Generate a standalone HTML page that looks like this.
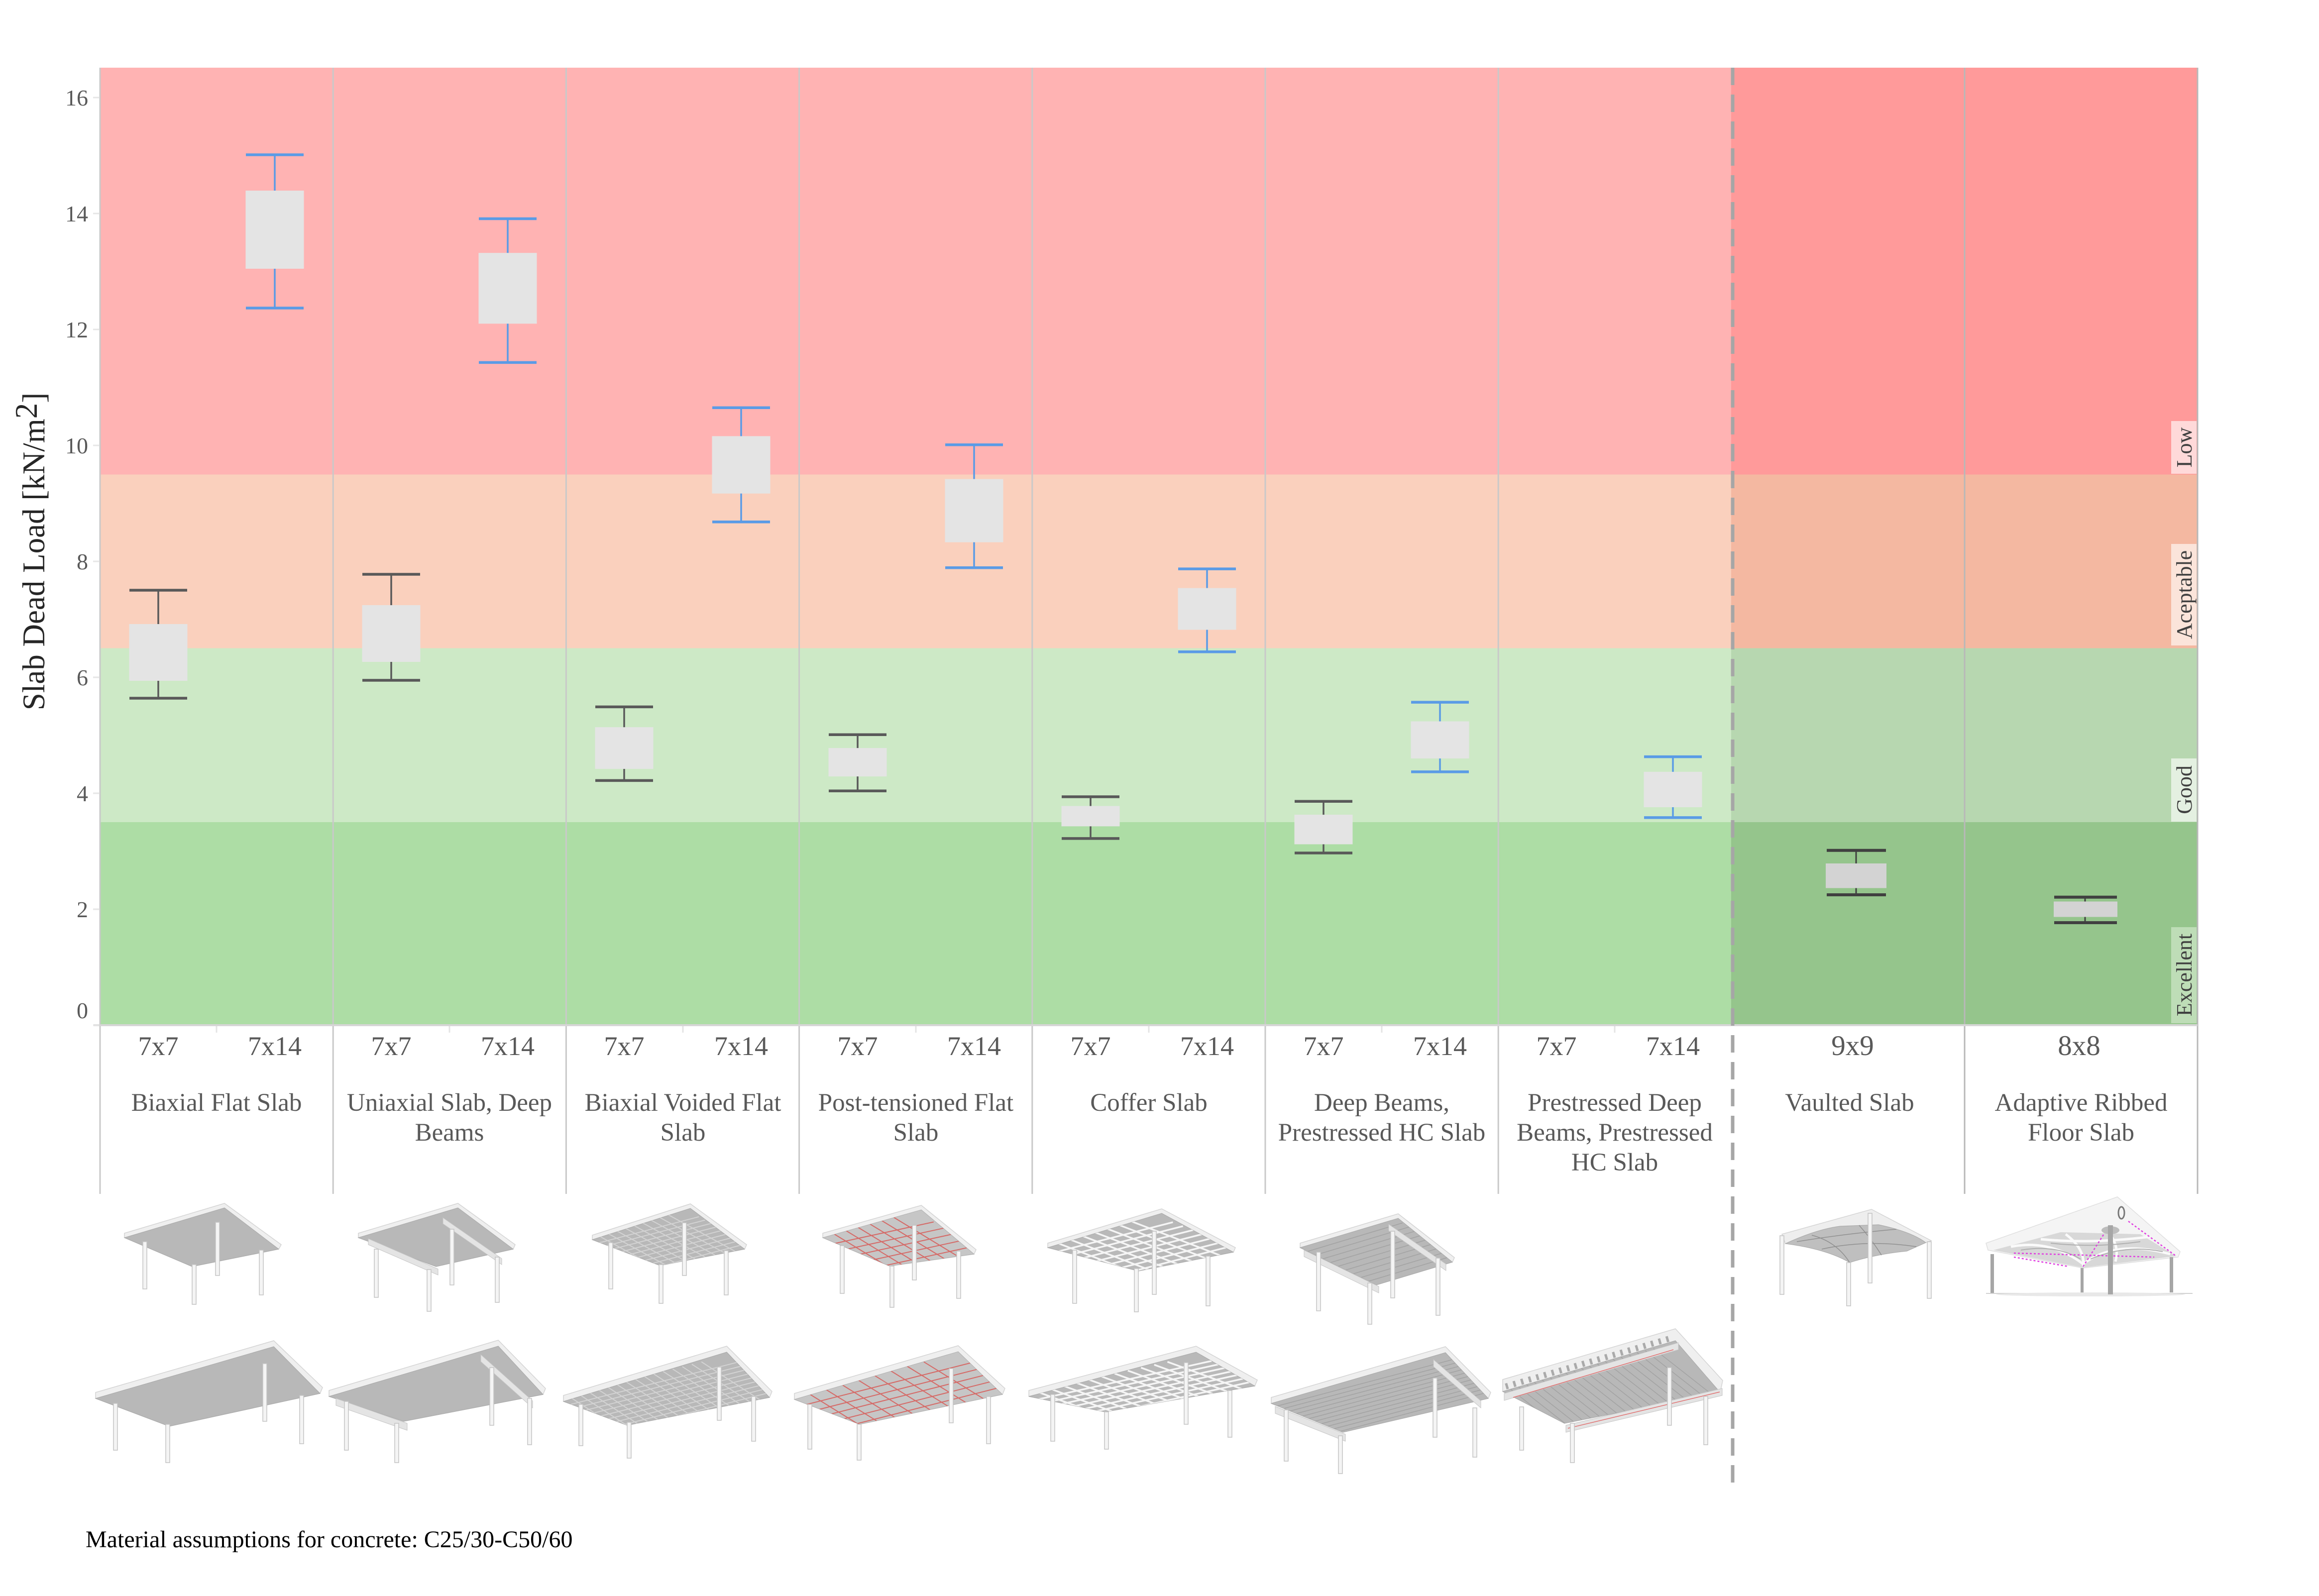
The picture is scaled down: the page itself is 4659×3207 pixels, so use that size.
<!DOCTYPE html>
<html><head><meta charset="utf-8">
<style>
html,body{margin:0;padding:0;background:#fff;}
svg{display:block;}
text{font-family:"Liberation Serif","Times New Roman",serif;}
.e{fill:#efefef;stroke:#d4d4d4;stroke-width:1.5}
.u{fill:#b8b8b8;stroke:#a8a8a8;stroke-width:1}
.ul{fill:#c6c6c6;stroke:#b0b0b0;stroke-width:1}
.c{fill:#f4f4f4;stroke:#c4c4c4;stroke-width:1.5}
.b{fill:#e4e4e4;stroke:#c6c6c6;stroke-width:1}
.gd{fill:none;stroke:#d3d3d3;stroke-width:2}
.rd{fill:none;stroke:#d9534f;stroke-width:2;opacity:.8}
.wh{fill:none;stroke:#f7f7f7;stroke-width:5}
.wc{fill:none;stroke:#f5f5f5;stroke-width:3.5}
.st{fill:none;stroke:#a2a2a2;stroke-width:1.5}
.dk{stroke:#595959}
.bl{stroke:#5A9BE6}
.d2{stroke:#404040}
</style></head><body>
<svg xmlns="http://www.w3.org/2000/svg" width="4659" height="3207" viewBox="0 0 4659 3207">
<rect width="4659" height="3207" fill="#fff"/>

<!-- Bands: groups 1-7 -->
<rect x="201" y="136" width="3278" height="818" fill="#FFB3B3"/>
<rect x="201" y="953.5" width="3278" height="349.5" fill="#FAD0BD"/>
<rect x="201" y="1302.5" width="3278" height="350" fill="#CDE9C6"/>
<rect x="201" y="1652" width="3278" height="408" fill="#ADDDA5"/>
<!-- Bands: groups 8-9 -->
<rect x="3478" y="136" width="937" height="818" fill="#FF9A9A"/>
<rect x="3478" y="953.5" width="937" height="349.5" fill="#F4B8A1"/>
<rect x="3478" y="1302.5" width="937" height="350" fill="#B7D7B0"/>
<rect x="3478" y="1652" width="937" height="408" fill="#95C58C"/>

<!-- separators -->
<g stroke="#c9c9c9" stroke-width="3">
<line x1="201" y1="136" x2="201" y2="2399"/>
<line x1="669.2" y1="136" x2="669.2" y2="2399"/>
<line x1="1137.4" y1="136" x2="1137.4" y2="2399"/>
<line x1="1605.6" y1="136" x2="1605.6" y2="2399"/>
<line x1="2073.8" y1="136" x2="2073.8" y2="2399"/>
<line x1="2542" y1="136" x2="2542" y2="2399"/>
<line x1="3010.2" y1="136" x2="3010.2" y2="2399"/>
<line x1="3947" y1="136" x2="3947" y2="2399" stroke="#b8b8b8"/>
<line x1="4415" y1="136" x2="4415" y2="2399" stroke="#b8b8b8"/>
</g>
<!-- x axis line -->
<line x1="188" y1="2060" x2="4415" y2="2060" stroke="#d6d6d6" stroke-width="4"/>
<!-- small ticks at group centers -->
<g stroke="#e4e4e4" stroke-width="3">
<line x1="435" y1="2062" x2="435" y2="2075"/>
<line x1="903" y1="2062" x2="903" y2="2075"/>
<line x1="1372" y1="2062" x2="1372" y2="2075"/>
<line x1="1840" y1="2062" x2="1840" y2="2075"/>
<line x1="2308" y1="2062" x2="2308" y2="2075"/>
<line x1="2776" y1="2062" x2="2776" y2="2075"/>
<line x1="3244" y1="2062" x2="3244" y2="2075"/>
</g>
<!-- y ticks -->
<g stroke="#e6e6e6" stroke-width="3">
<line x1="187" y1="2060" x2="199" y2="2060"/>
<line x1="187" y1="1827" x2="199" y2="1827"/>
<line x1="187" y1="1594" x2="199" y2="1594"/>
<line x1="187" y1="1361" x2="199" y2="1361"/>
<line x1="187" y1="1128" x2="199" y2="1128"/>
<line x1="187" y1="895" x2="199" y2="895"/>
<line x1="187" y1="662" x2="199" y2="662"/>
<line x1="187" y1="429" x2="199" y2="429"/>
<line x1="187" y1="196" x2="199" y2="196"/>
</g>
<!-- y tick labels -->
<g font-size="46" fill="#595959" text-anchor="end">
<text x="177" y="2046">0</text>
<text x="177" y="1843">2</text>
<text x="177" y="1610">4</text>
<text x="177" y="1377">6</text>
<text x="177" y="1144">8</text>
<text x="177" y="911">10</text>
<text x="177" y="678">12</text>
<text x="177" y="445">14</text>
<text x="177" y="212">16</text>
</g>
<!-- y title -->
<text transform="translate(89,1108) rotate(-90)" text-anchor="middle" font-size="63" fill="#262626">Slab Dead Load [kN/m<tspan dy="-15">2</tspan><tspan dy="15">]</tspan></text>

<!-- Box plots -->
<!-- G1 7x7 -->
<line x1="318" y1="1186" x2="318" y2="1403" class="dk" stroke-width="3.5"/>
<rect x="259.5" y="1254" width="117" height="114" fill="#E4E4E4"/>
<line x1="260" y1="1186" x2="376" y2="1186" class="dk" stroke-width="5.5"/>
<line x1="260" y1="1403" x2="376" y2="1403" class="dk" stroke-width="5.5"/>
<!-- G1 7x14 -->
<line x1="552" y1="311" x2="552" y2="619" class="bl" stroke-width="3.5"/>
<rect x="493.5" y="383" width="117" height="157" fill="#E4E4E4"/>
<line x1="494" y1="311" x2="610" y2="311" class="bl" stroke-width="5.5"/>
<line x1="494" y1="619" x2="610" y2="619" class="bl" stroke-width="5.5"/>
<!-- G2 7x7 -->
<line x1="786" y1="1154" x2="786" y2="1367" class="dk" stroke-width="3.5"/>
<rect x="727.5" y="1216" width="117" height="114" fill="#E4E4E4"/>
<line x1="728" y1="1154" x2="844" y2="1154" class="dk" stroke-width="5.5"/>
<line x1="728" y1="1367" x2="844" y2="1367" class="dk" stroke-width="5.5"/>
<!-- G2 7x14 -->
<line x1="1020" y1="439.5" x2="1020" y2="728.4" class="bl" stroke-width="3.5"/>
<rect x="961.5" y="508.2" width="117" height="142.2" fill="#E4E4E4"/>
<line x1="962" y1="439.5" x2="1078" y2="439.5" class="bl" stroke-width="5.5"/>
<line x1="962" y1="728.4" x2="1078" y2="728.4" class="bl" stroke-width="5.5"/>
<!-- G3 7x7 -->
<line x1="1254" y1="1420.4" x2="1254" y2="1568.4" class="dk" stroke-width="3.5"/>
<rect x="1195.5" y="1461.2" width="117" height="83.9" fill="#E4E4E4"/>
<line x1="1196" y1="1420.4" x2="1312" y2="1420.4" class="dk" stroke-width="5.5"/>
<line x1="1196" y1="1568.4" x2="1312" y2="1568.4" class="dk" stroke-width="5.5"/>
<!-- G3 7x14 -->
<line x1="1489" y1="819.3" x2="1489" y2="1048.8" class="bl" stroke-width="3.5"/>
<rect x="1430.5" y="876.4" width="117" height="115.3" fill="#E4E4E4"/>
<line x1="1431" y1="819.3" x2="1547" y2="819.3" class="bl" stroke-width="5.5"/>
<line x1="1431" y1="1048.8" x2="1547" y2="1048.8" class="bl" stroke-width="5.5"/>
<!-- G4 7x7 -->
<line x1="1723" y1="1476.3" x2="1723" y2="1589.3" class="dk" stroke-width="3.5"/>
<rect x="1664.5" y="1503.1" width="117" height="57.1" fill="#E4E4E4"/>
<line x1="1665" y1="1476.3" x2="1781" y2="1476.3" class="dk" stroke-width="5.5"/>
<line x1="1665" y1="1589.3" x2="1781" y2="1589.3" class="dk" stroke-width="5.5"/>
<!-- G4 7x14 -->
<line x1="1957" y1="893.8" x2="1957" y2="1140.8" class="bl" stroke-width="3.5"/>
<rect x="1898.5" y="962.6" width="117" height="127" fill="#E4E4E4"/>
<line x1="1899" y1="893.8" x2="2015" y2="893.8" class="bl" stroke-width="5.5"/>
<line x1="1899" y1="1140.8" x2="2015" y2="1140.8" class="bl" stroke-width="5.5"/>
<!-- G5 7x7 -->
<line x1="2191" y1="1601" x2="2191" y2="1684.9" class="dk" stroke-width="3.5"/>
<rect x="2132.5" y="1619.6" width="117" height="40.8" fill="#E4E4E4"/>
<line x1="2133" y1="1601" x2="2249" y2="1601" class="dk" stroke-width="5.5"/>
<line x1="2133" y1="1684.9" x2="2249" y2="1684.9" class="dk" stroke-width="5.5"/>
<!-- G5 7x14 -->
<line x1="2425" y1="1143.1" x2="2425" y2="1309.7" class="bl" stroke-width="3.5"/>
<rect x="2366.5" y="1181.6" width="117" height="83.9" fill="#E4E4E4"/>
<line x1="2367" y1="1143.1" x2="2483" y2="1143.1" class="bl" stroke-width="5.5"/>
<line x1="2367" y1="1309.7" x2="2483" y2="1309.7" class="bl" stroke-width="5.5"/>
<!-- G6 7x7 -->
<line x1="2659" y1="1610.3" x2="2659" y2="1714" class="dk" stroke-width="3.5"/>
<rect x="2600.5" y="1637.1" width="117" height="59.4" fill="#E4E4E4"/>
<line x1="2601" y1="1610.3" x2="2717" y2="1610.3" class="dk" stroke-width="5.5"/>
<line x1="2601" y1="1714" x2="2717" y2="1714" class="dk" stroke-width="5.5"/>
<!-- G6 7x14 -->
<line x1="2893" y1="1411.1" x2="2893" y2="1550.9" class="bl" stroke-width="3.5"/>
<rect x="2834.5" y="1449.5" width="117" height="74.6" fill="#E4E4E4"/>
<line x1="2835" y1="1411.1" x2="2951" y2="1411.1" class="bl" stroke-width="5.5"/>
<line x1="2835" y1="1550.9" x2="2951" y2="1550.9" class="bl" stroke-width="5.5"/>
<!-- G7 7x14 -->
<line x1="3361" y1="1520.6" x2="3361" y2="1642.9" class="bl" stroke-width="3.5"/>
<rect x="3302.5" y="1550.9" width="117" height="71.1" fill="#E4E4E4"/>
<line x1="3303" y1="1520.6" x2="3419" y2="1520.6" class="bl" stroke-width="5.5"/>
<line x1="3303" y1="1642.9" x2="3419" y2="1642.9" class="bl" stroke-width="5.5"/>
<!-- G8 9x9 -->
<line x1="3729" y1="1708.7" x2="3729" y2="1798" class="d2" stroke-width="3"/>
<rect x="3668" y="1735" width="122" height="49.5" fill="#D3D3D3"/>
<line x1="3670" y1="1708.7" x2="3789" y2="1708.7" class="d2" stroke-width="6"/>
<line x1="3670" y1="1798" x2="3789" y2="1798" class="d2" stroke-width="6"/>
<!-- G9 8x8 -->
<line x1="4189" y1="1802.7" x2="4189" y2="1854" class="d2" stroke-width="3"/>
<rect x="4126" y="1811.5" width="128" height="31" fill="#D3D3D3"/>
<line x1="4127" y1="1802.7" x2="4253" y2="1802.7" class="d2" stroke-width="6"/>
<line x1="4127" y1="1854" x2="4253" y2="1854" class="d2" stroke-width="6"/>

<!-- Right rating labels -->
<rect x="4362" y="846" width="51" height="106" fill="#FFD9D9"/>
<rect x="4362" y="1093" width="51" height="204" fill="#FBE4DA"/>
<rect x="4362" y="1524" width="51" height="127" fill="#E4F0E1"/>
<rect x="4362" y="1863" width="51" height="193" fill="#BEDDB7"/>
<g font-size="44" fill="#404040" text-anchor="middle">
<text transform="translate(4403,899) rotate(-90)">Low</text>
<text transform="translate(4403,1195) rotate(-90)">Aceptable</text>
<text transform="translate(4403,1587) rotate(-90)">Good</text>
<text transform="translate(4403,1959) rotate(-90)">Excellent</text>
</g>

<!-- Dashed divider -->
<line x1="3481" y1="136" x2="3481" y2="2980" stroke="#A6A6A6" stroke-width="7" stroke-dasharray="35 19"/>

<!-- Category labels -->
<g font-size="54" fill="#595959" text-anchor="middle">
<text x="318" y="2120">7x7</text><text x="552" y="2120">7x14</text>
<text x="786" y="2120">7x7</text><text x="1020" y="2120">7x14</text>
<text x="1254" y="2120">7x7</text><text x="1489" y="2120">7x14</text>
<text x="1723" y="2120">7x7</text><text x="1957" y="2120">7x14</text>
<text x="2191" y="2120">7x7</text><text x="2425" y="2120">7x14</text>
<text x="2659" y="2120">7x7</text><text x="2893" y="2120">7x14</text>
<text x="3127" y="2120">7x7</text><text x="3361" y="2120">7x14</text>
<text x="3722" y="2120" font-size="57">9x9</text>
<text x="4177" y="2120" font-size="57">8x8</text>
</g>
<g font-size="51" fill="#595959" text-anchor="middle">
<text x="435" y="2232">Biaxial Flat Slab</text>
<text x="903" y="2232">Uniaxial Slab, Deep</text><text x="903" y="2292">Beams</text>
<text x="1372" y="2232">Biaxial Voided Flat</text><text x="1372" y="2292">Slab</text>
<text x="1840" y="2232">Post-tensioned Flat</text><text x="1840" y="2292">Slab</text>
<text x="2308" y="2232">Coffer Slab</text>
<text x="2776" y="2232">Deep Beams,</text><text x="2776" y="2292">Prestressed HC Slab</text>
<text x="3244" y="2232">Prestressed Deep</text><text x="3244" y="2292">Beams, Prestressed</text><text x="3244" y="2352">HC Slab</text>
<text x="3716" y="2232">Vaulted Slab</text>
<text x="4181" y="2232">Adaptive Ribbed</text><text x="4181" y="2292">Floor Slab</text>
</g>

<defs>
<clipPath id="k13"><polygon points="1190,2491 1387,2428 1496,2510 1326,2543"/></clipPath>
<clipPath id="k14"><polygon points="1653,2487 1851,2431 1957,2520 1787,2544"/></clipPath>
<clipPath id="k15"><polygon points="2105,2507 2334,2438 2478,2516 2287,2554"/></clipPath>
<clipPath id="k16"><polygon points="2612,2507 2809,2448 2918,2536 2765,2582"/></clipPath>
<clipPath id="k23"><polygon points="1132,2816 1460,2717 1546,2808 1260,2864"/></clipPath>
<clipPath id="k24"><polygon points="1596,2812 1925,2716 2014,2802 1727,2862"/></clipPath>
<clipPath id="k25"><polygon points="2067,2806 2403,2717 2521,2785 2220,2837"/></clipPath>
<clipPath id="k26"><polygon points="2554,2820 2904,2718 2990,2810 2698,2878"/></clipPath>
<clipPath id="k27"><polygon points="3019,2796 3366,2694 3456,2798 3143,2860"/></clipPath>
</defs>

<!-- ===== Row 1 illustrations ===== -->
<!-- G1 -->
<polygon class="e" points="250,2478 451,2418 565,2501 560,2510 386,2545 250,2487"/>
<polygon class="u" points="250,2487 451,2427 560,2510 386,2545"/>
<g class="c"><rect x="287" y="2495" width="8" height="95"/><rect x="433" y="2456" width="8" height="107"/><rect x="386" y="2541" width="8" height="80"/><rect x="521" y="2512" width="8" height="90"/></g>
<!-- G2 -->
<polygon class="e" points="720,2478 920,2418 1035,2501 1031,2510 876,2545 720,2487"/>
<polygon class="u" points="720,2487 920,2427 1031,2510 876,2545"/>
<polygon class="b" points="740,2489 880,2550 880,2562 740,2501"/>
<polygon class="b" points="890,2447 1008,2529 1008,2541 890,2459"/>
<g class="c"><rect x="752" y="2510" width="8" height="97"/><rect x="904" y="2470" width="8" height="112"/><rect x="858" y="2551" width="8" height="84"/><rect x="995" y="2526" width="8" height="91"/></g>
<!-- G3 -->
<polygon class="e" points="1190,2482 1387,2419 1500,2501 1496,2510 1326,2543 1190,2491"/>
<polygon class="u" points="1190,2491 1387,2428 1496,2510 1326,2543"/>
<g clip-path="url(#k13)"><path class="gd" vector-effect="non-scaling-stroke" transform="matrix(183.5,-48,122.5,67,1190,2491)" d="M.1 -.1V1.1M.2 -.1V1.1M.3 -.1V1.1M.4 -.1V1.1M.5 -.1V1.1M.6 -.1V1.1M.7 -.1V1.1M.8 -.1V1.1M.9 -.1V1.1M-.1 .1H1.1M-.1 .2H1.1M-.1 .3H1.1M-.1 .4H1.1M-.1 .5H1.1M-.1 .6H1.1M-.1 .7H1.1M-.1 .8H1.1M-.1 .9H1.1"/></g>
<g class="c"><rect x="1223" y="2497" width="8" height="93"/><rect x="1371" y="2457" width="8" height="106"/><rect x="1324" y="2541" width="8" height="78"/><rect x="1455" y="2513" width="8" height="89"/></g>
<!-- G4 -->
<polygon class="e" points="1653,2478 1851,2422 1961,2511 1957,2520 1787,2544 1653,2487"/>
<polygon class="ul" points="1653,2487 1851,2431 1957,2520 1787,2544"/>
<g clip-path="url(#k14)"><path class="rd" vector-effect="non-scaling-stroke" transform="matrix(184,-40,120,73,1653,2487)" d="M.14 -.1V1.1M.28 -.1V1.1M.42 -.1V1.1M.56 -.1V1.1M.7 -.1V1.1M.84 -.1V1.1M-.1 .17H1.1M-.1 .34H1.1M-.1 .5H1.1M-.1 .67H1.1M-.1 .84H1.1"/></g>
<g class="c"><rect x="1688" y="2503" width="8" height="96"/><rect x="1833" y="2462" width="8" height="110"/><rect x="1788" y="2544" width="8" height="83"/><rect x="1922" y="2514" width="8" height="95"/></g>
<!-- G5 -->
<polygon class="e" points="2105,2498 2334,2429 2482,2507 2478,2516 2287,2554 2105,2507"/>
<polygon fill="#b9b9b9" stroke="#a8a8a8" stroke-width="1" points="2105,2507 2334,2438 2478,2516 2287,2554"/>
<g clip-path="url(#k15)"><path class="wc" vector-effect="non-scaling-stroke" transform="matrix(210,-53.5,163,62.5,2105,2507)" d="M.125 -.1V1.1M.25 -.1V1.1M.375 -.1V1.1M.5 -.1V1.1M.625 -.1V1.1M.75 -.1V1.1M.875 -.1V1.1M-.1 .125H1.1M-.1 .25H1.1M-.1 .375H1.1M-.1 .5H1.1M-.1 .625H1.1M-.1 .75H1.1M-.1 .875H1.1"/></g>
<g class="c"><rect x="2155" y="2512" width="8" height="107"/><rect x="2315" y="2474" width="8" height="127"/><rect x="2279" y="2549" width="8" height="87"/><rect x="2423" y="2524" width="8" height="100"/></g>
<!-- G6 -->
<polygon class="e" points="2612,2498 2809,2439 2922,2527 2918,2536 2765,2582 2612,2507"/>
<polygon class="u" points="2612,2507 2809,2448 2918,2536 2765,2582"/>
<g clip-path="url(#k16)"><path class="st" vector-effect="non-scaling-stroke" transform="matrix(175,-52.5,131,81.5,2612,2507)" d="M-.1 .1H1.1M-.1 .2H1.1M-.1 .3H1.1M-.1 .4H1.1M-.1 .5H1.1M-.1 .6H1.1M-.1 .7H1.1M-.1 .8H1.1M-.1 .9H1.1"/></g>
<polygon class="b" points="2620,2512 2770,2585 2770,2598 2620,2525"/>
<polygon class="b" points="2790,2460 2905,2540 2905,2553 2790,2473"/>
<g class="c"><rect x="2645" y="2516" width="8" height="118"/><rect x="2794" y="2474" width="8" height="134"/><rect x="2748" y="2578" width="8" height="83"/><rect x="2885" y="2528" width="8" height="115"/></g>
<!-- G8 Vaulted -->
<path fill="#eeeeee" stroke="#d4d4d4" stroke-width="1.5" d="M3580,2480 L3760,2430 L3880,2493 L3869,2497 Q3840,2475 3774,2461 L3697,2464 Q3650,2470 3587,2499 Z"/>
<path fill="#bfbfbf" stroke="#a8a8a8" stroke-width="1" d="M3587,2499 Q3650,2470 3697,2464 L3774,2461 Q3840,2475 3869,2497 L3831,2514 Q3770,2520 3716,2537 Q3670,2510 3587,2499 Z"/>
<g fill="none" stroke="#8f8f8f" stroke-width="1.5">
<path d="M3640,2482 Q3690,2495 3716,2537"/><path d="M3735,2462 Q3760,2490 3780,2522"/><path d="M3610,2495 Q3700,2480 3810,2470"/><path d="M3660,2510 Q3750,2490 3850,2505"/>
</g>
<g class="c"><rect x="3576" y="2483" width="8" height="118"/><rect x="3753" y="2438" width="8" height="140"/><rect x="3710" y="2537" width="8" height="87"/><rect x="3872" y="2495" width="8" height="114"/></g>
<!-- G9 Adaptive -->
<line x1="3990" y1="2599" x2="4405" y2="2599" stroke="#d2d2d2" stroke-width="2"/>
<ellipse cx="4200" cy="2601" rx="190" ry="4" fill="#e8e8e8"/>
<polygon fill="#f4f4f4" stroke="#e0e0e0" stroke-width="1.5" points="3990,2498 4254,2405 4380,2515 4376,2526 4185,2548 3994,2512"/>
<polygon fill="#d8d8d8" points="4005,2512 4140,2476 4300,2480 4372,2524 4185,2547"/>
<g fill="none" stroke="#fafafa" stroke-width="5">
<path d="M4040,2505 Q4120,2490 4185,2540"/><path d="M4100,2490 Q4200,2500 4320,2485"/><path d="M4185,2540 Q4250,2490 4360,2520"/><path d="M4150,2480 Q4190,2510 4185,2545"/><path d="M4230,2470 Q4260,2500 4250,2535"/>
</g>
<g fill="none" stroke="#b0b0b0" stroke-width="2">
<path d="M4060,2512 Q4130,2500 4180,2530"/><path d="M4120,2498 Q4210,2508 4300,2495"/><path d="M4200,2530 Q4270,2500 4345,2515"/>
</g>
<g fill="none" stroke="#e040e0" stroke-width="2.5" stroke-dasharray="4 4">
<line x1="4046" y1="2518" x2="4328" y2="2526"/><line x1="4046" y1="2526" x2="4156" y2="2545"/><line x1="4276" y1="2454" x2="4372" y2="2524"/><line x1="4185" y1="2545" x2="4228" y2="2478"/>
</g>
<ellipse cx="4262" cy="2437" rx="6" ry="12" fill="none" stroke="#777" stroke-width="3"/>
<ellipse cx="4240" cy="2472" rx="18" ry="8" fill="#bdbdbd"/>
<g fill="#a6a6a6"><rect x="3999" y="2520" width="7" height="78"/><rect x="4180" y="2548" width="6" height="49"/><rect x="4235" y="2462" width="10" height="139"/><rect x="4359" y="2526" width="7" height="71"/></g>

<!-- ===== Row 2 illustrations ===== -->
<!-- G1 -->
<polygon class="e" points="192,2798 550,2694 648,2788 643,2800 340,2866 192,2810"/>
<polygon class="u" points="192,2810 550,2706 643,2800 340,2866"/>
<g class="c"><rect x="228" y="2820" width="8" height="94"/><rect x="333" y="2862" width="8" height="77"/><rect x="528" y="2740" width="8" height="116"/><rect x="602" y="2804" width="8" height="97"/></g>
<!-- G2 -->
<polygon class="e" points="661,2794 1001,2693 1096,2790 1091,2802 811,2856 661,2806"/>
<polygon class="u" points="661,2806 1001,2705 1091,2802 811,2856"/>
<polygon class="b" points="675,2810 818,2860 818,2874 675,2824"/>
<polygon class="b" points="966,2722 1070,2815 1070,2829 966,2736"/>
<g class="c"><rect x="692" y="2816" width="8" height="98"/><rect x="793" y="2860" width="8" height="79"/><rect x="984" y="2748" width="8" height="116"/><rect x="1060" y="2810" width="8" height="93"/></g>
<!-- G3 -->
<polygon class="e" points="1132,2804 1460,2705 1551,2796 1546,2808 1260,2864 1132,2816"/>
<polygon class="u" points="1132,2816 1460,2717 1546,2808 1260,2864"/>
<g clip-path="url(#k23)"><path class="gd" vector-effect="non-scaling-stroke" transform="matrix(307,-77.5,107,69.5,1132,2816)" d="M.0625 -.1V1.1M.125 -.1V1.1M.1875 -.1V1.1M.25 -.1V1.1M.3125 -.1V1.1M.375 -.1V1.1M.4375 -.1V1.1M.5 -.1V1.1M.5625 -.1V1.1M.625 -.1V1.1M.6875 -.1V1.1M.75 -.1V1.1M.8125 -.1V1.1M.875 -.1V1.1M.9375 -.1V1.1M-.1 .1H1.1M-.1 .2H1.1M-.1 .3H1.1M-.1 .4H1.1M-.1 .5H1.1M-.1 .6H1.1M-.1 .7H1.1M-.1 .8H1.1M-.1 .9H1.1"/></g>
<g class="c"><rect x="1163" y="2822" width="8" height="83"/><rect x="1260" y="2858" width="8" height="72"/><rect x="1441" y="2747" width="8" height="107"/><rect x="1510" y="2806" width="8" height="90"/></g>
<!-- G4 -->
<polygon class="e" points="1596,2800 1925,2704 2019,2790 2014,2802 1727,2862 1596,2812"/>
<polygon class="ul" points="1596,2812 1925,2716 2014,2802 1727,2862"/>
<g clip-path="url(#k24)"><path class="rd" vector-effect="non-scaling-stroke" transform="matrix(308,-78,110,68,1596,2812)" d="M.11 -.1V1.1M.22 -.1V1.1M.33 -.1V1.1M.44 -.1V1.1M.55 -.1V1.1M.66 -.1V1.1M.77 -.1V1.1M.88 -.1V1.1M-.1 .17H1.1M-.1 .34H1.1M-.1 .5H1.1M-.1 .67H1.1M-.1 .84H1.1"/></g>
<g class="c"><rect x="1623" y="2822" width="8" height="90"/><rect x="1722" y="2862" width="8" height="72"/><rect x="1907" y="2750" width="8" height="109"/><rect x="1982" y="2806" width="8" height="95"/></g>
<!-- G5 -->
<polygon class="e" points="2067,2794 2403,2705 2526,2773 2521,2785 2220,2837 2067,2806"/>
<polygon fill="#b9b9b9" stroke="#a8a8a8" stroke-width="1" points="2067,2806 2403,2717 2521,2785 2220,2837"/>
<g clip-path="url(#k25)"><path class="wc" vector-effect="non-scaling-stroke" transform="matrix(318.5,-70.5,135.5,49.5,2067,2806)" d="M.0833 -.1V1.1M.1667 -.1V1.1M.25 -.1V1.1M.3333 -.1V1.1M.4167 -.1V1.1M.5 -.1V1.1M.5833 -.1V1.1M.6667 -.1V1.1M.75 -.1V1.1M.8333 -.1V1.1M.9167 -.1V1.1M-.1 .125H1.1M-.1 .25H1.1M-.1 .375H1.1M-.1 .5H1.1M-.1 .625H1.1M-.1 .75H1.1M-.1 .875H1.1"/></g>
<g class="c"><rect x="2111" y="2802" width="8" height="94"/><rect x="2219" y="2837" width="8" height="75"/><rect x="2379" y="2738" width="8" height="124"/><rect x="2467" y="2794" width="8" height="94"/></g>
<!-- G6 -->
<polygon class="e" points="2554,2808 2904,2706 2995,2798 2990,2810 2698,2878 2554,2820"/>
<polygon class="u" points="2554,2820 2904,2718 2990,2810 2698,2878"/>
<g clip-path="url(#k26)"><path class="st" vector-effect="non-scaling-stroke" transform="matrix(321,-85,115,75,2554,2820)" d="M-.1 .08H1.1M-.1 .16H1.1M-.1 .24H1.1M-.1 .32H1.1M-.1 .4H1.1M-.1 .48H1.1M-.1 .56H1.1M-.1 .64H1.1M-.1 .72H1.1M-.1 .8H1.1M-.1 .88H1.1"/></g>
<polygon class="b" points="2562,2826 2703,2882 2703,2896 2562,2840"/>
<polygon class="b" points="2880,2732 2975,2815 2975,2829 2880,2746"/>
<g class="c"><rect x="2580" y="2833" width="8" height="103"/><rect x="2689" y="2885" width="8" height="76"/><rect x="2879" y="2769" width="8" height="119"/><rect x="2959" y="2829" width="8" height="99"/></g>
<!-- G7 -->
<polygon class="e" points="3019,2772 3366,2670 3461,2774 3456,2798 3143,2860 3019,2796"/>
<line x1="3025" y1="2786" x2="3360" y2="2688" stroke="#aaaaaa" stroke-width="12" stroke-dasharray="5 11"/>
<polygon class="u" points="3019,2796 3366,2694 3456,2798 3143,2860"/>
<g clip-path="url(#k27)"><path class="st" stroke="#999" vector-effect="non-scaling-stroke" transform="matrix(330,-82,107,84,3019,2796)" d="M.05 -.1V1.1M.1 -.1V1.1M.15 -.1V1.1M.2 -.1V1.1M.25 -.1V1.1M.3 -.1V1.1M.35 -.1V1.1M.4 -.1V1.1M.45 -.1V1.1M.5 -.1V1.1M.55 -.1V1.1M.6 -.1V1.1M.65 -.1V1.1M.7 -.1V1.1M.75 -.1V1.1M.8 -.1V1.1M.85 -.1V1.1M.9 -.1V1.1M.95 -.1V1.1"/></g>
<polygon class="b" points="3022,2800 3372,2698 3372,2712 3022,2814"/>
<polygon class="b" points="3146,2864 3460,2790 3460,2804 3146,2878"/>
<line x1="3040" y1="2808" x2="3362" y2="2712" stroke="#e07070" stroke-width="1.5"/>
<line x1="3150" y1="2870" x2="3455" y2="2797" stroke="#e07070" stroke-width="1.5"/>
<g class="c"><rect x="3053" y="2827" width="8" height="87"/><rect x="3155" y="2860" width="8" height="79"/><rect x="3350" y="2748" width="8" height="116"/><rect x="3423" y="2806" width="8" height="97"/></g>

<!-- Footer -->
<text x="172" y="3109" font-size="48" fill="#000">Material assumptions for concrete: C25/30-C50/60</text>
</svg>
</body></html>
